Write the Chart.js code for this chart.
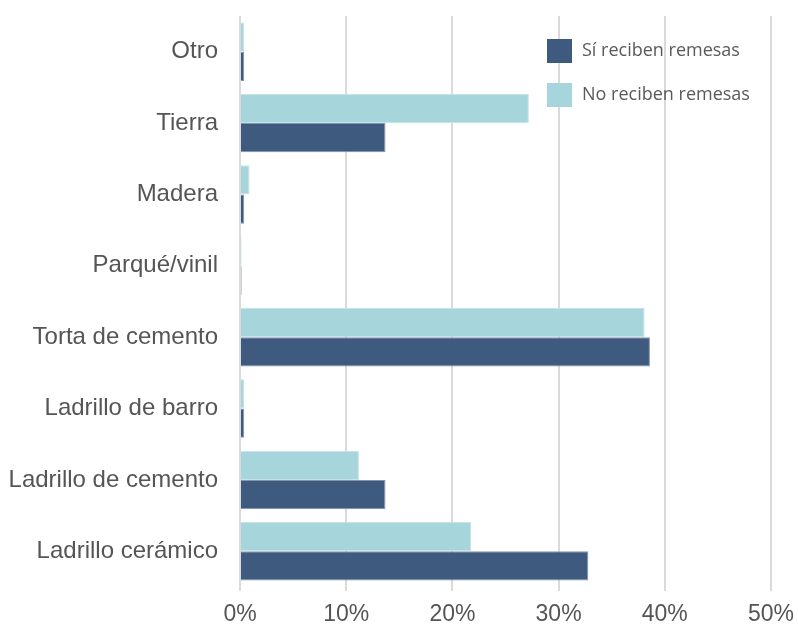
<!DOCTYPE html>
<html>
<head>
<meta charset="utf-8">
<script src="https://cdn.jsdelivr.net/npm/chart.js@4"></script>
<style>
  html, body { margin: 0; padding: 0; background: #fff; }
  #wrap { width: 798px; height: 625px; }
</style>
</head>
<body>
<div id="wrap"><canvas id="pisoChart" width="798" height="625"></canvas></div>
<script>
const categories = ['Otro', 'Tierra', 'Madera', 'Parqué/vinil', 'Torta de cemento',
  'Ladrillo de barro', 'Ladrillo de cemento', 'Ladrillo cerámico'];
const noReciben = [0.4, 27.2, 0.9, 0.15, 38.1, 0.4, 11.2, 21.75];
const siReciben = [0.4, 13.7, 0.4, 0.15, 38.6, 0.4, 13.7, 32.8];
const xTicks = [0, 10, 20, 30, 40, 50];

const DARK = '#3f5a7f';
const LIGHT = '#a6d5db';

// legend drawn by hand inside the plot, stacked vertically
const legendBox = {
  id: 'legendBox',
  afterDatasetsDraw(chart) {
    const ctx = chart.ctx;
    const items = [
      { label: 'Sí reciben remesas', color: DARK },
      { label: 'No reciben remesas', color: LIGHT }
    ];
    ctx.save();
    ctx.font = '18px "Open Sans"';
    ctx.textBaseline = 'middle';
    items.forEach((it, i) => {
      const y = 39 + i * 44;
      ctx.fillStyle = it.color;
      ctx.fillRect(547, y, 25, 24);
      ctx.fillStyle = '#5a5a5a';
      ctx.fillText(it.label, 582, y + 12);
    });
    ctx.restore();
  }
};

new Chart(document.getElementById('pisoChart'), {
  type: 'bar',
  data: {
    labels: categories,
    datasets: [
      {
        label: 'No reciben remesas',
        data: noReciben,
        backgroundColor: LIGHT,
        borderColor: '#c4e4e8',
        borderWidth: 1
      },
      {
        label: 'Sí reciben remesas',
        data: siReciben,
        backgroundColor: DARK,
        borderColor: '#8194b0',
        borderWidth: 1
      }
    ]
  },
  options: {
    indexAxis: 'y',
    responsive: false,
    animation: false,
    layout: { padding: { top: 16, right: 27, left: 0, bottom: 0 } },
    datasets: { bar: { categoryPercentage: 0.82, barPercentage: 1.0 } },
    plugins: {
      legend: { display: false },
      tooltip: { enabled: false }
    },
    scales: {
      x: {
        min: 0,
        max: 50,
        afterBuildTicks(axis) { axis.ticks = xTicks.map(v => ({ value: v })); },
        afterFit(axis) {
          axis.height = 38;
          axis.paddingLeft = 0;
          axis.paddingRight = 0;
        },
        grid: { color: '#dadada', lineWidth: 2, tickLength: 4 },
        border: { display: false },
        ticks: {
          color: '#555',
          font: { family: '"Liberation Sans", Arial, sans-serif', size: 23 },
          padding: 10,
          callback: v => v + '%'
        }
      },
      y: {
        afterFit(axis) {
          axis.width = 240;
          axis.paddingTop = 0;
          axis.paddingBottom = 0;
        },
        grid: { display: false },
        border: { display: false },
        ticks: {
          color: '#555',
          font: { family: '"Liberation Sans", Arial, sans-serif', size: 24 },
          padding: 14
        }
      }
    }
  },
  plugins: [legendBox]
});
</script>
</body>
</html>
